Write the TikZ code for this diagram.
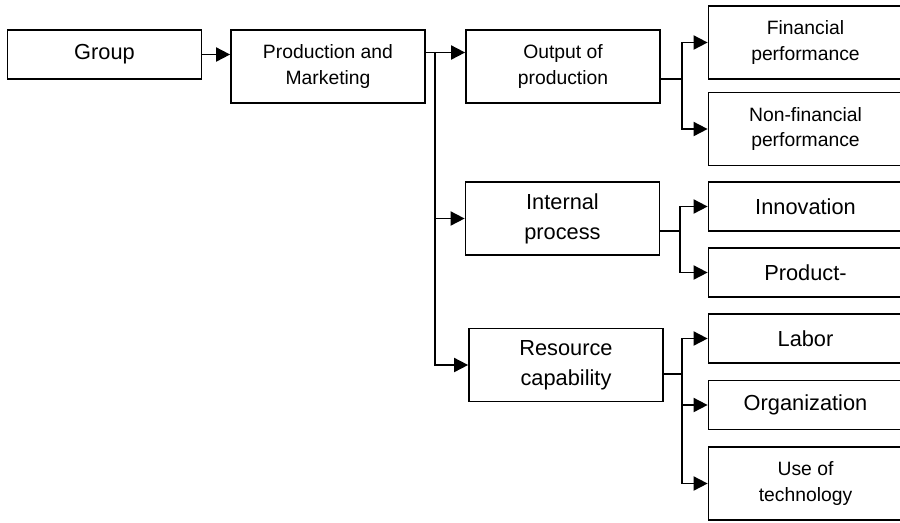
\documentclass[tikz,border=0pt]{standalone}
\usepackage{fontspec}
\setmainfont{Liberation Sans}
\usetikzlibrary{arrows.meta}

\begin{document}
\begin{tikzpicture}[x=0.02cm, y=-0.02cm, line width=1pt,
    block/.style ={rectangle, draw, minimum width=3.88cm, minimum height=1.46cm,
                   align=center, font=\fontsize{11}{14.5}\selectfont},
    small/.style ={block, minimum height=0.98cm},
    large/.style ={font=\fontsize{12.4}{17}\selectfont},
    link/.style ={-{Triangle[length=8pt,width=8pt]}}]
   \clip (0,0) rectangle (900,522);
   \node[small,large] (G) at (104.5,54.5)  {Group};
   \node[block] (P) at (328,66.5)  {Production and\\Marketing};
   \node[block] (O) at (563,66.5)  {Output of\\production};
   \node[block,large] (I) at (562.5,218.5)  {Internal\\process};
   \node[block,large] (R) at (566,365)  {Resource\\capability};
   \node[block] (F) at (805.5,42.5)  {Financial\\performance};
   \node[block] (N) at (805.5,129)  {Non-financial\\performance};
   \node[small,large] (V) at (805.5,206.5)  {Innovation};
   \node[small,large] (D) at (805.5,272.5)  {Product-};
   \node[small,large] (L) at (805.5,338.5)  {Labor};
   \node[small,large] (Z) at (805.5,405)  {Organization};
   \node[block] (U) at (805.5,483.5)  {Use of\\technology};

   \coordinate (t) at (435,52.5);
   \coordinate (a) at (682,79);
   \coordinate (b) at (680,231);
   \coordinate (c) at (682,374);

   \draw[link] (G) to  (G -| P.west);
   \draw (P.east |- t) to  (t);
   \draw[link] (t) to  (t -| O.west);
   \draw[link] (t) |-  (I);
   \draw[link] (t) |-  (R);

   \draw (O.east |- a) to  (a);
   \draw[link] (a) |-  (F);
   \draw[link] (a) |-  (N);

   \draw (I.east |- b) to  (b);
   \draw[link] (b) |-  (V);
   \draw[link] (b) |-  (D);

   \draw (R.east |- c) to  (c);
   \draw[link] (c) |-  (L);
   \draw[link] (c) |-  (Z);
   \draw[link] (c) |-  (U);
 \end{tikzpicture}
\end{document}
